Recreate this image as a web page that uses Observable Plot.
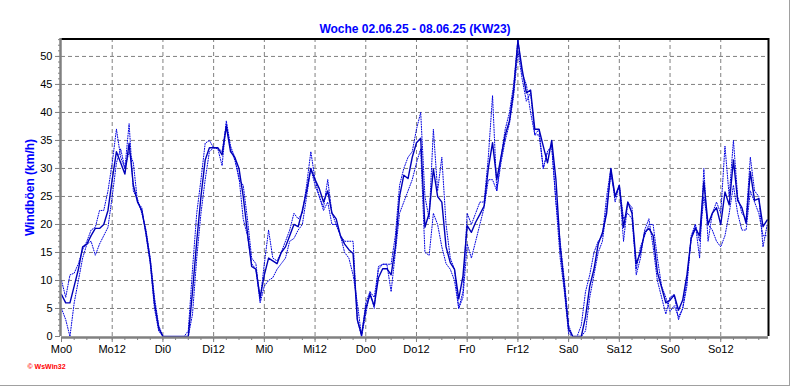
<!DOCTYPE html>
<html><head><meta charset="utf-8">
<script src="https://cdn.jsdelivr.net/npm/d3@7"></script>
<script src="https://cdn.jsdelivr.net/npm/@observablehq/plot@0.6"></script>
<style>
html,body{margin:0;padding:0;background:#fff;}
#wrap{position:relative;width:792px;height:387px;overflow:hidden;background:#fff;}
#edge{position:absolute;left:0;top:0;width:789px;height:385px;border-right:1px solid #a0a0a0;border-bottom:1px solid #a0a0a0;pointer-events:none;}
svg{display:block;}
</style></head>
<body><div id="wrap"><div id="edge"></div></div>
<script>
const title = "Woche 02.06.25 - 08.06.25 (KW23)";
const yLabel = "Windböen (km/h)";
const credit = "© WsWin32";
const xTicks = [0,12,24,36,48,60,72,84,96,108,120,132,144,156];
const xTickLabels = ["Mo0","Mo12","Di0","Di12","Mi0","Mi12","Do0","Do12","Fr0","Fr12","Sa0","Sa12","So0","So12"];
const yTicks = [0,5,10,15,20,25,30,35,40,45,50];

// hourly gusts, hour 0 = Monday 00:00
const gustMain = [
 7.5,6,6,9,12,16,16.5,18,19.3,19.3,20,22.5,28,33,31,29,34.5,27,24,22.5,18.5,13.5,6,1.5,
 0,0,0,0,0,0,0,8,17,25,31.5,33.7,33.7,33.7,32.4,37.5,33,32,30,25,18.5,12.5,12,7,
 11,14,13.5,13,15,16,18,20,19.6,22.5,26,30,28,26.4,24,26,22,21,18,16.5,15.5,14.8,3,0.3,
 5,7.5,5.5,10.5,12.1,12.1,11,16,25,28.8,28.2,32,34.6,35.4,19.5,22,29.9,25,24,16,13.2,12,6.7,10.8,
 19.8,18.6,20.4,21.8,23.3,30,34.6,28,32,36,38.5,44,52.8,47.7,43.5,44,37,37,34,31,35,28,16,9,
 1.3,0,0,0,3.5,9,12,16.5,18.5,22,30,25,27,19.5,24,22,13,15,18.6,19.3,18,11.5,8.8,6,
 6.5,7.4,4.7,6.5,11,17.5,19.3,18,27.6,20,22,23,20,25.8,23.5,31.5,24.3,23,20.2,29.4,24.3,24.6,19.6,20.8
];
const gustUpper = [
 10,7,11,11.3,13,15.5,17,19,19.5,22.5,22.5,26,31,37,32,30,38,26,24.5,22,19,14,7,2,
 0,0,0,0,0,0,1,12,22,28,34.5,35,33.7,33.5,30.5,38.5,34,32,28,27,21,14,13,6.5,
 13,19,14,13.5,15,17,19,22,21,22,27,33,28,25,23,28,22,20,18,17,17,17,3,0,
 4,8,7,12,12.9,12.9,12.9,18,27,30,32,33,37,40,25,21,37,26,32,20,14,12,5,8,
 22,20,22,24,24,32,43,26,32,37,40,45,53,47,45,40,36,37,30,33,34,24,17,10,
 2,0,0,2,8,11,15,17,18,25,30,24,27,17,24,23,11,14,19,21,16,10,7,4,
 7,7.5,3,5,9,18,20,14,30,17,22,24,22,34,25,35,25,22,21,32,26,25,16,20
];
const gustLower = [
 5,3,0,6,10,14,16.5,17,14.5,16.5,18,19.5,25,31,33.5,30,33,31,24,23,18,13,5,1,
 0,0,0,0,0,0,0,4,14,22,28,33,33.7,33.7,33,38,33.5,31.5,28.5,21,18,13,12,6,
 9,10,10.5,12,13,14,17,17.5,19,20,25,30,27,25,22.5,24,20,20,18,15,14,11,6,0,
 6,8,5,12.5,12.9,12.9,8,15,22,24,26,28,31,33.5,15,14.5,22,20,16,13,12,10,5,7,
 16.5,14,17,20,23,28,28,26,31,35,38,43,51,46,42,43.5,36,36,30,33,34,24,14,8,
 0.5,0,0,0,1,7,11,15,17,23,29,25,27,21,22,21,12,16,18,20,20,14,9,7,
 4.5,5.5,3.5,5,10,17.5,20,17,25,20,19,17,16,18,22,27,22,19,19,26,24,22,18,18
];

const toRows = arr => arr.map((v, i) => ({h: i, v}));
const mainRows = toRows(gustMain), upperRows = toRows(gustUpper), lowerRows = toRows(gustLower);
const minorX = d3.range(0, 168, 3);
const minorY = d3.range(0, 54, 1);
const grey = "#808080";

const chart = Plot.plot({
  width: 792, height: 387,
  marginLeft: 61, marginRight: 24, marginTop: 38, marginBottom: 51,
  style: {fontFamily: "'Liberation Sans', Arial, sans-serif", fontSize: "11px", background: "transparent", color: "black"},
  x: {domain: [0, 167.3], label: null},
  y: {domain: [0, 53.2], label: null},
  marks: [
    Plot.gridY(yTicks.slice(1), {stroke: grey, strokeOpacity: 1, strokeDasharray: "4,3"}),
    Plot.gridX(xTicks.slice(1), {stroke: grey, strokeOpacity: 1, strokeDasharray: "4,3"}),
    Plot.line(upperRows, {x: "h", y: "v", stroke: "#0000e0", strokeWidth: 1, strokeDasharray: "1,1.5"}),
    Plot.line(lowerRows, {x: "h", y: "v", stroke: "#0000e0", strokeWidth: 1, strokeDasharray: "1,1.5"}),
    Plot.line(mainRows, {x: "h", y: "v", stroke: "#0000b8", strokeWidth: 1.4}),
    Plot.ruleY([53.2], {stroke: "black", strokeWidth: 2, dy: 0.5}),
    Plot.ruleX([167.3], {stroke: "black", strokeWidth: 2}),
    Plot.axisX(minorX, {tickSize: 3, tickFormat: () => "", stroke: grey, dy: 1, label: null}),
    Plot.axisX(xTicks, {tickSize: 5, tickPadding: 3, tickFormat: (d, i) => xTickLabels[i], stroke: grey, dy: 1, label: null}),
    Plot.axisY(minorY, {tickSize: 2, tickFormat: () => "", stroke: grey, dx: -1, label: null}),
    Plot.axisY(yTicks, {tickSize: 5, tickPadding: 3, stroke: grey, dx: -1, label: null}),
    Plot.ruleY([0], {stroke: grey, strokeWidth: 2.5, dy: 1}),
    Plot.ruleX([0], {stroke: grey, strokeWidth: 2.5, dx: -1}),
    Plot.text([title], {frameAnchor: "top", dy: -14, fill: "#0000ff", fontWeight: "bold", fontSize: 12, letterSpacing: "0.7px"}),
    Plot.text([yLabel], {frameAnchor: "left", textAnchor: "middle", dx: -31, rotate: -90, fill: "#0000ff", fontWeight: "bold", fontSize: 12, letterSpacing: "0.7px"}),
    Plot.text([credit], {frameAnchor: "bottom-left", dx: -34, dy: 32, textAnchor: "start", fill: "#ff0000", fontWeight: "bold", fontSize: 7})
  ]
});
document.getElementById("wrap").appendChild(chart);
</script>
</body></html>
